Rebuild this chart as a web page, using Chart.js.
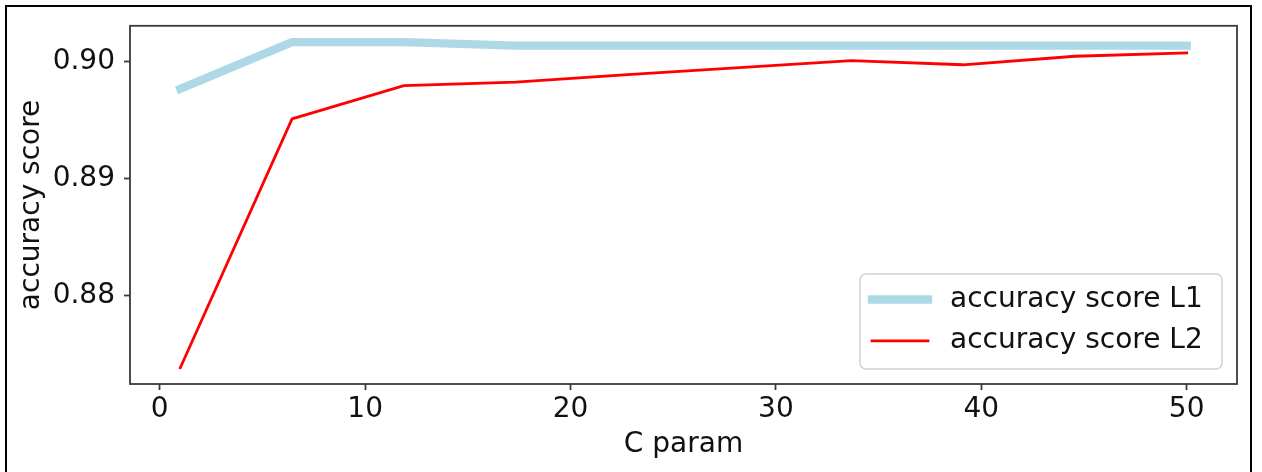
<!DOCTYPE html>
<html>
<head>
<meta charset="utf-8">
<title>accuracy score vs C</title>
<script src="https://cdn.jsdelivr.net/npm/chart.js@4.4.1/dist/chart.umd.min.js"></script>
<style>
    html, body { margin: 0; padding: 0; background: #fff; overflow: hidden; }
    #frame { position: absolute; left: 5px; top: 5px; width: 1247px; height: 520px; box-sizing: border-box; border: 2px solid #000; }
    #wrap { position: absolute; left: 0; top: 0; width: 1262px; height: 472px; }
</style>
</head>
<body>
<div id="frame"></div>
<div id="wrap"><canvas id="accChart" width="1262" height="472"></canvas></div>
<script>
// ===== Data =====
// C values: 10 evenly spaced between 1 and 50
const cValues = [1, 6.44, 11.89, 17.33, 22.78, 28.22, 33.67, 39.11, 44.56, 50];
const scoreL1 = [0.8977, 0.9017, 0.9017, 0.9014, 0.9014, 0.9014, 0.9014, 0.9014, 0.9014, 0.9014];
const scoreL2 = [0.87386, 0.89513, 0.89797, 0.89827, 0.89892, 0.89951, 0.90011, 0.89976, 0.90049, 0.90078];
const xTicks = [0, 10, 20, 30, 40, 50];
const yTicks = [0.88, 0.89, 0.90];

const FONT = 'DejaVu Sans';
const INK = '#111';
const SPINE = '#3a3a3a';

// autoscale with a 5% margin on each side
function padRange(vals) {
    const lo = Math.min(...vals), hi = Math.max(...vals);
    const m = (hi - lo) * 0.05;
    return [lo - m, hi + m];
}
const [xMin, xMax] = padRange(cValues);
const [yMin, yMax] = padRange(scoreL1.concat(scoreL2));

const toPoints = ys => cValues.map((x, i) => ({ x, y: ys[i] }));

// ===== Plugins =====
// full box around the plot area
const spines = {
    id: 'spines',
    afterDatasetsDraw(chart) {
        const { ctx, chartArea: a } = chart;
        ctx.save();
        ctx.strokeStyle = SPINE;
        ctx.lineWidth = 1.8;
        ctx.strokeRect(a.left, a.top, a.right - a.left, a.bottom - a.top);
        ctx.restore();
    }
};

// legend box in the lower right corner of the plot
const insideLegend = {
    id: 'insideLegend',
    afterDraw(chart) {
        const { ctx, chartArea: a } = chart;
        const w = 362, h = 95;
        const x0 = a.right - 15 - w, y0 = a.bottom - 15 - h;
        ctx.save();
        ctx.beginPath();
        ctx.roundRect(x0, y0, w, h, 6);
        ctx.fillStyle = 'rgba(255,255,255,0.8)';
        ctx.fill();
        ctx.strokeStyle = '#d0d0d0';
        ctx.lineWidth = 1.5;
        ctx.stroke();
        chart.data.datasets.forEach((ds, i) => {
            const cy = y0 + 25.5 + i * 41.4;
            ctx.beginPath();
            ctx.moveTo(x0 + 12, cy);
            ctx.lineTo(x0 + 68, cy);
            ctx.strokeStyle = ds.borderColor;
            ctx.lineWidth = ds.borderWidth;
            ctx.lineCap = 'square';
            ctx.stroke();
            ctx.fillStyle = INK;
            ctx.font = `28px "${FONT}"`;
            ctx.textBaseline = 'middle';
            ctx.textAlign = 'left';
            ctx.fillText(ds.label, x0 + 90, cy);
        });
        ctx.restore();
    }
};

// ===== Chart =====
const tickFont = { family: FONT, size: 28 };

new Chart(document.getElementById('accChart'), {
    type: 'line',
    data: {
        datasets: [
            { label: 'accuracy score L1', data: toPoints(scoreL1), borderColor: '#ADD8E6', borderWidth: 8.3, order: 1 },
            { label: 'accuracy score L2', data: toPoints(scoreL2), borderColor: '#FF0000', borderWidth: 2.8, order: 0 }
        ]
    },
    options: {
        responsive: false,
        animation: false,
        devicePixelRatio: 1,
        layout: { padding: { top: 24, right: 25, left: 0, bottom: 0 } },
        elements: {
            point: { radius: 0 },
            line: { tension: 0, borderCapStyle: 'square', borderJoinStyle: 'round', fill: false }
        },
        plugins: { legend: { display: false }, tooltip: { enabled: false } },
        scales: {
            x: {
                type: 'linear',
                min: xMin,
                max: xMax,
                afterBuildTicks: s => { s.ticks = xTicks.map(v => ({ value: v })); },
                afterFit: s => { s.height = 88; },
                border: { display: false },
                grid: { drawOnChartArea: false, drawTicks: true, tickLength: 6, tickWidth: 1.8, tickColor: SPINE },
                ticks: { font: tickFont, color: INK, padding: 3, maxRotation: 0, callback: v => String(v) },
                title: { display: true, text: 'C param', font: tickFont, color: INK, padding: { top: 0, bottom: 10.5 } }
            },
            y: {
                type: 'linear',
                min: yMin,
                max: yMax,
                afterBuildTicks: s => { s.ticks = yTicks.map(v => ({ value: v })); },
                afterFit: s => { s.width = 130; },
                border: { display: false },
                grid: { drawOnChartArea: false, drawTicks: true, tickLength: 6, tickWidth: 1.8, tickColor: SPINE },
                ticks: { font: tickFont, color: INK, padding: 9, callback: v => v.toFixed(2) },
                title: { display: true, text: 'accuracy score', font: tickFont, color: INK, padding: { top: 15, bottom: 0 } }
            }
        }
    },
    plugins: [spines, insideLegend]
});
</script>
</body>
</html>
